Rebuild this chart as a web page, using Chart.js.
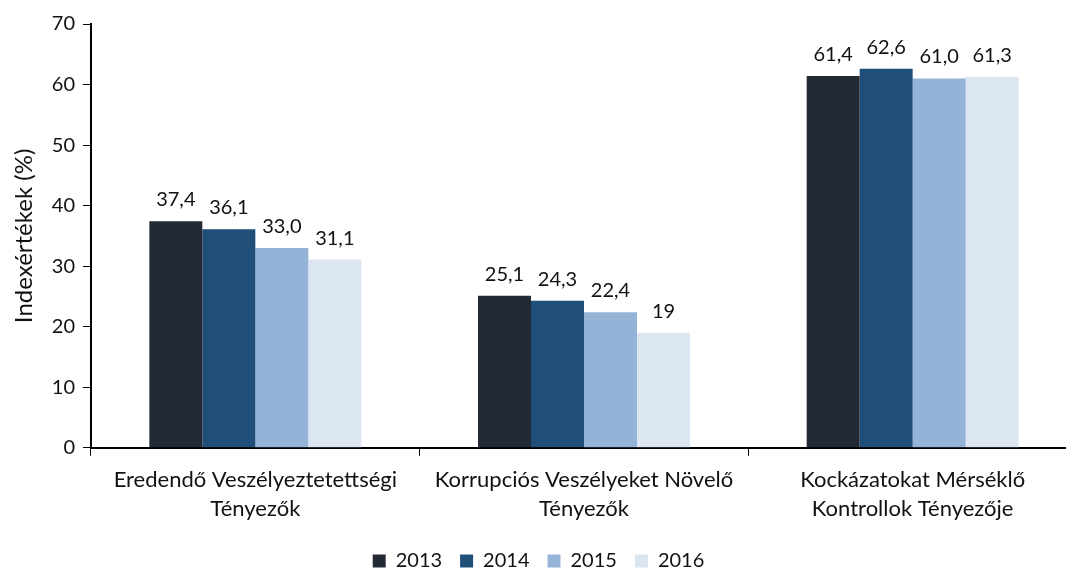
<!DOCTYPE html>
<html>
<head>
<meta charset="utf-8">
<script src="https://cdn.jsdelivr.net/npm/chart.js@4"></script>
<style>
  html, body { margin: 0; padding: 0; background: #fff; overflow: hidden; }
  #wrap { position: absolute; left: 0; top: 0; width: 1080px; height: 570px; }
</style>
</head>
<body>
<div id="wrap"><canvas id="chartCanvas"></canvas></div>
<script>
var categories = [
  ['Eredendő Veszélyeztetettségi', 'Tényezők'],
  ['Korrupciós Veszélyeket Növelő', 'Tényezők'],
  ['Kockázatokat Mérséklő', 'Kontrollok Tényezője']
];
var years = ['2013', '2014', '2015', '2016'];
var values2013 = [37.4, 25.1, 61.4];
var values2014 = [36.1, 24.3, 62.6];
var values2015 = [33.0, 22.4, 61.0];
var values2016 = [31.1, 19, 61.3];
var labels2013 = ['37,4', '25,1', '61,4'];
var labels2014 = ['36,1', '24,3', '62,6'];
var labels2015 = ['33,0', '22,4', '61,0'];
var labels2016 = ['31,1', '19', '61,3'];
var yTicks = [0, 10, 20, 30, 40, 50, 60, 70];

var colors = ['#242a35', '#1f4e79', '#95b3d7', '#dce6f2'];
var font = 'Lato, "Open Sans", sans-serif';

// draws the value text above every bar
var barLabels = {
  id: 'barLabels',
  afterDatasetsDraw: function(chart) {
    var ctx = chart.ctx;
    ctx.save();
    ctx.font = '20px ' + font;
    ctx.fillStyle = '#111';
    ctx.textAlign = 'center';
    ctx.textBaseline = 'alphabetic';
    chart.data.datasets.forEach(function(ds, i) {
      var meta = chart.getDatasetMeta(i);
      meta.data.forEach(function(bar, j) {
        ctx.fillText(ds.valueLabels[j], bar.x, bar.y - 15);
      });
    });
    ctx.restore();
  }
};

var chartdata = {
  labels: categories,
  datasets: [
    { label: years[0], data: values2013, valueLabels: labels2013, backgroundColor: colors[0] },
    { label: years[1], data: values2014, valueLabels: labels2014, backgroundColor: colors[1] },
    { label: years[2], data: values2015, valueLabels: labels2015, backgroundColor: colors[2] },
    { label: years[3], data: values2016, valueLabels: labels2016, backgroundColor: colors[3] }
  ]
};

var ctx = document.getElementById('chartCanvas');
var chart = new Chart(ctx, {
  type: 'bar',
  data: chartdata,
  plugins: [barLabels],
  options: {
    responsive: true,
    maintainAspectRatio: false,
    animation: false,
    datasets: { bar: { barPercentage: 1, categoryPercentage: 0.645 } },
    layout: { padding: { top: 24, right: 3, left: 0, bottom: -11 } },
    plugins: {
      tooltip: { enabled: false },
      legend: {
        position: 'bottom',
        labels: {
          boxWidth: 13, boxHeight: 13, padding: 18,
          color: '#111',
          font: { family: font, size: 20 }
        }
      }
    },
    scales: {
      x: {
        grid: { offset: true, drawOnChartArea: false, color: '#000', tickLength: 8 },
        border: { color: '#000', width: 2 },
        ticks: {
          color: '#111', maxRotation: 0, autoSkip: false, padding: 10,
          font: { family: font, size: 22, lineHeight: 1.3 }
        }
      },
      y: {
        min: 0, max: 70,
        afterBuildTicks: function(scale) {
          scale.ticks = yTicks.map(function(v) { return { value: v }; });
        },
        afterFit: function(scale) { scale.width = 91; },
        grid: { drawOnChartArea: false, color: '#000', tickLength: 8 },
        border: { color: '#000', width: 2 },
        title: {
          display: true, text: 'Indexértékek (%)', color: '#111',
          font: { family: font, size: 24 }, padding: { top: 10, bottom: 0 }
        },
        ticks: {
          color: '#111', padding: 8,
          font: { family: font, size: 20 }
        }
      }
    }
  }
});
</script>
</body>
</html>
